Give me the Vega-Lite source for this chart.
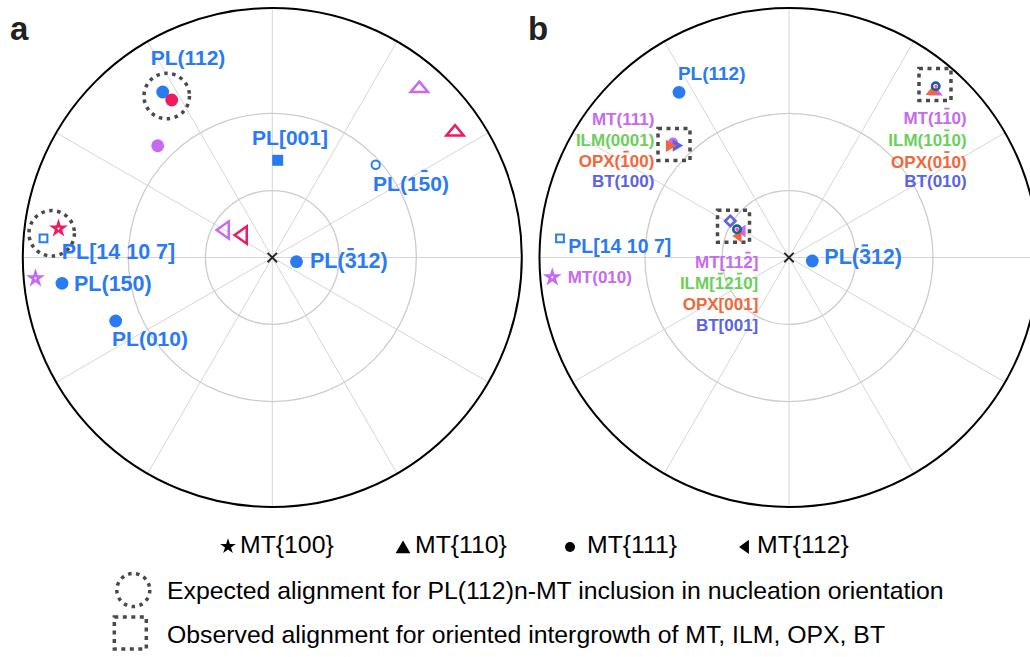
{
 "$schema": "https://vega.github.io/schema/vega-lite/v6.json",
 "width": 1030, "height": 657,
 "autosize": {"type": "none"},
 "padding": 0,
 "background": "white",
 "config": {"view": {"stroke": null}, "text": {"font": "Liberation Sans"}},
 "datasets": {
  "spokes": [
   {"x":1,"y":0,"x2":-1,"y2":0},{"x":0.866,"y":0.5,"x2":-0.866,"y2":-0.5},{"x":0.5,"y":0.866,"x2":-0.5,"y2":-0.866},{"x":0,"y":1,"x2":0,"y2":-1},{"x":-0.5,"y":0.866,"x2":0.5,"y2":-0.866},{"x":-0.866,"y":0.5,"x2":0.866,"y2":-0.5},
   {"x":3.0709,"y":0,"x2":1.0709,"y2":0},{"x":2.9369,"y":0.5,"x2":1.2049,"y2":-0.5},{"x":2.5709,"y":0.866,"x2":1.5709,"y2":-0.866},{"x":2.0709,"y":1,"x2":2.0709,"y2":-1},{"x":1.5709,"y":0.866,"x2":2.5709,"y2":-0.866},{"x":1.2049,"y":0.5,"x2":2.9369,"y2":-0.5}
  ],
  "centers": [{"x":0,"y":0},{"x":2.0709,"y":0}],
  "dcirc": [{"x":-0.4232,"y":0.6473},{"x":-0.8842,"y":0.0970}],
  "dcircLegend": [{"x":-0.5571,"y":-1.3327}],
  "dsq": [{"x":1.6100,"y":0.4529},{"x":2.6561,"y":0.6934},{"x":1.8485,"y":0.1250},{"x":-0.5691,"y":-1.5050}],
  "fcirc": [
   {"x":-0.4393,"y":0.6633,"m":"PL"},{"x":-0.4032,"y":0.6313,"m":"MTr"},{"x":-0.4593,"y":0.4481,"m":"MT"},
   {"x":0.0970,"y":-0.0168,"m":"PL"},{"x":-0.8429,"y":-0.1034,"m":"PL"},{"x":-0.6277,"y":-0.2545,"m":"PL"},
   {"x":1.6301,"y":0.6621,"m":"PL"},{"x":2.1643,"y":-0.0140,"m":"PL"}
  ],
  "fsq": [{"x":0.0216,"y":0.3896,"m":"PL"}],
  "ocirc": [{"x":0.4144,"y":0.3719,"m":"PL"}],
  "osq": [{"x":-0.9170,"y":0.0762,"m":"PL"},{"x":1.1531,"y":0.0770,"m":"PL"}],
  "stars": [{"x":-0.8569,"y":0.1162,"m":"MTr"},{"x":-0.9491,"y":-0.0834,"m":"MT"},{"x":1.1222,"y":-0.0794,"m":"MT"}],
  "otriup": [{"x":0.5892,"y":0.6822,"m":"MT"},{"x":0.7323,"y":0.5082,"m":"MTr"}],
  "otrileft": [{"x":-0.1988,"y":0.1102,"m":"MT"},{"x":-0.1267,"y":0.0902,"m":"MTr"}],
  "cl_circ": [{"x":1.6060,"y":0.4609,"m":"MT"}],
  "cl_triright": [{"x":1.6260,"y":0.4489,"m":"BT"},{"x":1.5990,"y":0.4477,"m":"OPX"}],
  "cl_triup": [{"x":2.6593,"y":0.6653,"m":"MT"},{"x":2.6461,"y":0.6673,"m":"OPX"}],
  "cl_trileft": [{"x":1.8786,"y":0.1062,"m":"MT"},{"x":1.8625,"y":0.0862,"m":"OPX"}],
  "cl_diam": [{"x":1.8357,"y":0.1463,"m":"BT"}],
  "cl_ring": [{"x":2.6589,"y":0.6862,"m":"ring"},{"x":1.8625,"y":0.1130,"m":"ring"}],
  "cl_dot": [{"x":2.6601,"y":0.6862,"m":"pink"},{"x":1.8625,"y":0.1130,"m":"pink"}],
  "lbl_big_c": [
   {"x":-0.338,"y":0.7956,"label":"PL(112)","m":"PL"},
   {"x":0.0709,"y":0.475,"label":"PL[001]","m":"PL"},
   {"x":0.5559,"y":0.2906,"label":"PL(150)","m":"PL"},
   {"x":-0.4902,"y":-0.3307,"label":"PL(010)","m":"PL"}
  ],
  "lbl_big_l": [
   {"x":0.1511,"y":-0.018,"label":"PL(312)","m":"PL"},
   {"x":-0.8441,"y":0.0168,"label":"PL[14 10 7]","m":"PL"},
   {"x":-0.7948,"y":-0.1102,"label":"PL(150)","m":"PL"},
   {"x":2.2124,"y":-0.0032,"label":"PL(312)","m":"PL"}
  ],
  "lbl_mid_c": [{"x":1.7611,"y":0.7355,"label":"PL(112)","m":"PL"}],
  "lbl_mid_l": [{"x":1.1864,"y":0.0409,"label":"PL[14 10 7]","m":"PL"}],
  "lbl_min_r": [
   {"x":1.5311,"y":0.5511,"label":"MT(111)","m":"MT"},
   {"x":1.5311,"y":0.4681,"label":"ILM(0001)","m":"ILM"},
   {"x":1.5311,"y":0.3816,"label":"OPX(100)","m":"OPX"},
   {"x":1.5311,"y":0.3014,"label":"BT(100)","m":"BT"},
   {"x":2.7832,"y":0.5539,"label":"MT(110)","m":"MT"},
   {"x":2.7832,"y":0.4669,"label":"ILM(1010)","m":"ILM"},
   {"x":2.7832,"y":0.3800,"label":"OPX(010)","m":"OPX"},
   {"x":2.7832,"y":0.3014,"label":"BT(010)","m":"BT"},
   {"x":1.9479,"y":-0.0232,"label":"MT[112]","m":"MT"},
   {"x":1.9479,"y":-0.1074,"label":"ILM[1210]","m":"ILM"},
   {"x":1.9479,"y":-0.1904,"label":"OPX[001]","m":"OPX"},
   {"x":1.9479,"y":-0.2745,"label":"BT[001]","m":"BT"}
  ],
  "bars_big": [
   {"x":0.5972,"x2":0.6224,"y":0.3467,"m":"PL"},
   {"x":0.3010,"x2":0.3267,"y":0.0337,"m":"PL"},
   {"x":2.3623,"x2":2.3880,"y":0.0485,"m":"PL"}
  ],
  "bars_small": [
   {"x":2.6934,"x2":2.7142,"y":0.5968,"m":"MT"},
   {"x":2.6934,"x2":2.7142,"y":0.5098,"m":"ILM"},
   {"x":2.6934,"x2":2.7142,"y":0.4228,"m":"OPX"},
   {"x":1.4072,"x2":1.4281,"y":0.4244,"m":"OPX"},
   {"x":1.8958,"x2":1.9166,"y":0.0196,"m":"MT"},
   {"x":1.7860,"x2":1.8068,"y":-0.0645,"m":"ILM"},
   {"x":1.8621,"x2":1.8830,"y":-0.0645,"m":"ILM"}
  ],
  "lbl_min_l": [{"x":1.1840,"y":-0.0834,"label":"MT(010)","m":"MT"}],
  "panels": [{"x":-1.0513,"y":0.8737,"label":"a"},{"x":1.0248,"y":0.8737,"label":"b"}],
  "legStar": [{"x":-0.1776,"y":-1.158}],
  "legTri": [{"x":0.5239,"y":-1.160}],
  "legCirc": [{"x":1.1932,"y":-1.160}],
  "legLeft": [{"x":1.8906,"y":-1.160}],
  "legText": [
   {"x":-0.1295,"y":-1.1563,"label":"MT{100}"},
   {"x":0.5719,"y":-1.1563,"label":"MT{110}"},
   {"x":1.2613,"y":-1.1563,"label":"MT{111}"},
   {"x":1.9427,"y":-1.1563,"label":"MT{112}"},
   {"x":-0.4220,"y":-1.3407,"label":"Expected alignment for PL(112)n-MT inclusion in nucleation orientation"},
   {"x":-0.4220,"y":-1.5170,"label":"Observed alignment for oriented intergrowth of MT, ILM, OPX, BT"}
  ]
 },
 "encoding": {
  "x": {"field": "x", "type": "quantitative", "scale": {"domain": [-1.0914, 3.0369], "nice": false, "zero": false}, "axis": null},
  "y": {"field": "y", "type": "quantitative", "scale": {"domain": [-1.6012, 1.0321], "nice": false, "zero": false}, "axis": null}
 },
 "layer": [
  {"data": {"name": "spokes"}, "mark": {"type": "rule", "color": "#d6d6d6", "strokeWidth": 1},
   "encoding": {"x2": {"field": "x2"}, "y2": {"field": "y2"}}},
  {"data": {"name": "centers"}, "mark": {"type": "point", "shape": "circle", "filled": false, "size": 17876, "stroke": "#cccccc", "strokeWidth": 1.3, "opacity": 1}},
  {"data": {"name": "centers"}, "mark": {"type": "point", "shape": "circle", "filled": false, "size": 83002, "stroke": "#cccccc", "strokeWidth": 1.3, "opacity": 1}},
  {"data": {"name": "centers"}, "mark": {"type": "point", "shape": "circle", "filled": false, "size": 249001, "stroke": "#000000", "strokeWidth": 2, "opacity": 1}},
  {"data": {"name": "centers"}, "mark": {"type": "point", "shape": "M-1,-1L1,1M-1,1L1,-1", "filled": false, "size": 90, "stroke": "#222222", "strokeWidth": 1.8, "opacity": 1}},
  {"data": {"name": "dcirc"}, "mark": {"type": "point", "shape": "circle", "filled": false, "size": 2070, "stroke": "#4a4a4a", "strokeWidth": 3.5, "strokeDash": [3.5, 4.5], "opacity": 1}},
  {"data": {"name": "dcircLegend"}, "mark": {"type": "point", "shape": "circle", "filled": false, "size": 1089, "stroke": "#4a4a4a", "strokeWidth": 3.5, "strokeDash": [3.5, 4.5], "opacity": 1}},
  {"data": {"name": "dsq"}, "mark": {"type": "point", "shape": "square", "filled": false, "size": 1024, "stroke": "#4a4a4a", "strokeWidth": 3.5, "strokeDash": [4, 4.5], "opacity": 1}},
  {"data": {"name": "fcirc"}, "mark": {"type": "point", "shape": "circle", "filled": true, "size": 165, "opacity": 1},
   "encoding": {"color": {"field": "m", "type": "nominal", "legend": null, "scale": {"domain": ["PL","MT","MTr","ILM","OPX","BT","ring","pink"], "range": ["#2a7af3","#c56af2","#ef1a5f","#6ccf5c","#f2673a","#5a62e6","#1c5c9e","#f0607a"]}}}},
  {"data": {"name": "fsq"}, "mark": {"type": "point", "shape": "square", "filled": true, "size": 121, "opacity": 1},
   "encoding": {"color": {"field": "m", "type": "nominal", "legend": null, "scale": {"domain": ["PL","MT","MTr","ILM","OPX","BT","ring","pink"], "range": ["#2a7af3","#c56af2","#ef1a5f","#6ccf5c","#f2673a","#5a62e6","#1c5c9e","#f0607a"]}}}},
  {"data": {"name": "ocirc"}, "mark": {"type": "point", "shape": "circle", "filled": false, "size": 70, "strokeWidth": 2, "opacity": 1},
   "encoding": {"color": {"field": "m", "type": "nominal", "legend": null, "scale": {"domain": ["PL","MT","MTr","ILM","OPX","BT","ring","pink"], "range": ["#2a7af3","#c56af2","#ef1a5f","#6ccf5c","#f2673a","#5a62e6","#1c5c9e","#f0607a"]}}}},
  {"data": {"name": "osq"}, "mark": {"type": "point", "shape": "square", "filled": false, "size": 60, "strokeWidth": 2, "opacity": 1},
   "encoding": {"color": {"field": "m", "type": "nominal", "legend": null, "scale": {"domain": ["PL","MT","MTr","ILM","OPX","BT","ring","pink"], "range": ["#2a7af3","#c56af2","#ef1a5f","#6ccf5c","#f2673a","#5a62e6","#1c5c9e","#f0607a"]}}}},
  {"data": {"name": "stars"}, "mark": {"type": "point", "shape": "M0,-1L0.225,-0.309L0.951,-0.309L0.363,0.118L0.588,0.809L0,0.382L-0.588,0.809L-0.363,0.118L-0.951,-0.309L-0.225,-0.309Z", "filled": true, "size": 400, "opacity": 1},
   "encoding": {"color": {"field": "m", "type": "nominal", "legend": null, "scale": {"domain": ["PL","MT","MTr","ILM","OPX","BT","ring","pink"], "range": ["#2a7af3","#c56af2","#ef1a5f","#6ccf5c","#f2673a","#5a62e6","#1c5c9e","#f0607a"]}}}},
  {"data": {"name": "stars"}, "mark": {"type": "point", "shape": "circle", "filled": true, "size": 5, "color": "#ffffff", "opacity": 1}},
  {"data": {"name": "otriup"}, "mark": {"type": "point", "shape": "M0,-0.65L1,0.55L-1,0.55Z", "filled": false, "size": 300, "strokeWidth": 2.5, "opacity": 1},
   "encoding": {"color": {"field": "m", "type": "nominal", "legend": null, "scale": {"domain": ["PL","MT","MTr","ILM","OPX","BT","ring","pink"], "range": ["#2a7af3","#c56af2","#ef1a5f","#6ccf5c","#f2673a","#5a62e6","#1c5c9e","#f0607a"]}}}},
  {"data": {"name": "otrileft"}, "mark": {"type": "point", "shape": "M-0.7,0L0.7,-1L0.7,1Z", "filled": false, "size": 300, "strokeWidth": 2.5, "opacity": 1},
   "encoding": {"color": {"field": "m", "type": "nominal", "legend": null, "scale": {"domain": ["PL","MT","MTr","ILM","OPX","BT","ring","pink"], "range": ["#2a7af3","#c56af2","#ef1a5f","#6ccf5c","#f2673a","#5a62e6","#1c5c9e","#f0607a"]}}}},
  {"data": {"name": "cl_circ"}, "mark": {"type": "point", "shape": "circle", "filled": true, "size": 100, "opacity": 1},
   "encoding": {"color": {"field": "m", "type": "nominal", "legend": null, "scale": {"domain": ["PL","MT","MTr","ILM","OPX","BT","ring","pink"], "range": ["#2a7af3","#c56af2","#ef1a5f","#6ccf5c","#f2673a","#5a62e6","#1c5c9e","#f0607a"]}}}},
  {"data": {"name": "cl_triright"}, "mark": {"type": "point", "shape": "triangle-right", "filled": true, "size": 150, "opacity": 1},
   "encoding": {"color": {"field": "m", "type": "nominal", "legend": null, "scale": {"domain": ["PL","MT","MTr","ILM","OPX","BT","ring","pink"], "range": ["#2a7af3","#c56af2","#ef1a5f","#6ccf5c","#f2673a","#5a62e6","#1c5c9e","#f0607a"]}}}},
  {"data": {"name": "cl_triup"}, "mark": {"type": "point", "shape": "M0,-0.65L1,0.55L-1,0.55Z", "filled": true, "size": 200, "opacity": 1},
   "encoding": {"color": {"field": "m", "type": "nominal", "legend": null, "scale": {"domain": ["PL","MT","MTr","ILM","OPX","BT","ring","pink"], "range": ["#2a7af3","#c56af2","#ef1a5f","#6ccf5c","#f2673a","#5a62e6","#1c5c9e","#f0607a"]}}}},
  {"data": {"name": "cl_trileft"}, "mark": {"type": "point", "shape": "M-0.7,0L0.7,-1L0.7,1Z", "filled": true, "size": 170, "opacity": 1},
   "encoding": {"color": {"field": "m", "type": "nominal", "legend": null, "scale": {"domain": ["PL","MT","MTr","ILM","OPX","BT","ring","pink"], "range": ["#2a7af3","#c56af2","#ef1a5f","#6ccf5c","#f2673a","#5a62e6","#1c5c9e","#f0607a"]}}}},
  {"data": {"name": "cl_diam"}, "mark": {"type": "point", "shape": "diamond", "filled": false, "size": 110, "strokeWidth": 2.5, "opacity": 1},
   "encoding": {"color": {"field": "m", "type": "nominal", "legend": null, "scale": {"domain": ["PL","MT","MTr","ILM","OPX","BT","ring","pink"], "range": ["#2a7af3","#c56af2","#ef1a5f","#6ccf5c","#f2673a","#5a62e6","#1c5c9e","#f0607a"]}}}},
  {"data": {"name": "cl_ring"}, "mark": {"type": "point", "shape": "circle", "filled": false, "size": 55, "strokeWidth": 2.6, "opacity": 1},
   "encoding": {"color": {"field": "m", "type": "nominal", "legend": null, "scale": {"domain": ["PL","MT","MTr","ILM","OPX","BT","ring","pink"], "range": ["#2a7af3","#c56af2","#ef1a5f","#6ccf5c","#f2673a","#5a62e6","#1c5c9e","#f0607a"]}}}},
  {"data": {"name": "cl_dot"}, "mark": {"type": "point", "shape": "circle", "filled": true, "size": 10, "opacity": 1},
   "encoding": {"color": {"field": "m", "type": "nominal", "legend": null, "scale": {"domain": ["PL","MT","MTr","ILM","OPX","BT","ring","pink"], "range": ["#2a7af3","#c56af2","#ef1a5f","#6ccf5c","#f2673a","#5a62e6","#1c5c9e","#f0607a"]}}}},
  {"data": {"name": "lbl_big_c"}, "mark": {"type": "text", "font": "Liberation Sans", "fontWeight": "bold", "fontSize": 21, "align": "center", "baseline": "middle"},
   "encoding": {"text": {"field": "label"}, "color": {"field": "m", "type": "nominal", "legend": null, "scale": {"domain": ["PL","MT","MTr","ILM","OPX","BT","ring","pink"], "range": ["#2a7af3","#c56af2","#ef1a5f","#6ccf5c","#f2673a","#5a62e6","#1c5c9e","#f0607a"]}}}},
  {"data": {"name": "lbl_big_l"}, "mark": {"type": "text", "font": "Liberation Sans", "fontWeight": "bold", "fontSize": 21.5, "align": "left", "baseline": "middle"},
   "encoding": {"text": {"field": "label"}, "color": {"field": "m", "type": "nominal", "legend": null, "scale": {"domain": ["PL","MT","MTr","ILM","OPX","BT","ring","pink"], "range": ["#2a7af3","#c56af2","#ef1a5f","#6ccf5c","#f2673a","#5a62e6","#1c5c9e","#f0607a"]}}}},
  {"data": {"name": "lbl_mid_c"}, "mark": {"type": "text", "font": "Liberation Sans", "fontWeight": "bold", "fontSize": 19, "align": "center", "baseline": "middle"},
   "encoding": {"text": {"field": "label"}, "color": {"field": "m", "type": "nominal", "legend": null, "scale": {"domain": ["PL","MT","MTr","ILM","OPX","BT","ring","pink"], "range": ["#2a7af3","#c56af2","#ef1a5f","#6ccf5c","#f2673a","#5a62e6","#1c5c9e","#f0607a"]}}}},
  {"data": {"name": "lbl_mid_l"}, "mark": {"type": "text", "font": "Liberation Sans", "fontWeight": "bold", "fontSize": 19.5, "align": "left", "baseline": "middle"},
   "encoding": {"text": {"field": "label"}, "color": {"field": "m", "type": "nominal", "legend": null, "scale": {"domain": ["PL","MT","MTr","ILM","OPX","BT","ring","pink"], "range": ["#2a7af3","#c56af2","#ef1a5f","#6ccf5c","#f2673a","#5a62e6","#1c5c9e","#f0607a"]}}}},
  {"data": {"name": "lbl_min_r"}, "mark": {"type": "text", "font": "Liberation Sans", "fontWeight": "bold", "fontSize": 17, "align": "right", "baseline": "middle"},
   "encoding": {"text": {"field": "label"}, "color": {"field": "m", "type": "nominal", "legend": null, "scale": {"domain": ["PL","MT","MTr","ILM","OPX","BT","ring","pink"], "range": ["#2a7af3","#c56af2","#ef1a5f","#6ccf5c","#f2673a","#5a62e6","#1c5c9e","#f0607a"]}}}},
  {"data": {"name": "lbl_min_l"}, "mark": {"type": "text", "font": "Liberation Sans", "fontWeight": "bold", "fontSize": 17, "align": "left", "baseline": "middle"},
   "encoding": {"text": {"field": "label"}, "color": {"field": "m", "type": "nominal", "legend": null, "scale": {"domain": ["PL","MT","MTr","ILM","OPX","BT","ring","pink"], "range": ["#2a7af3","#c56af2","#ef1a5f","#6ccf5c","#f2673a","#5a62e6","#1c5c9e","#f0607a"]}}}},
  {"data": {"name": "bars_big"}, "mark": {"type": "rule", "strokeWidth": 2.2},
   "encoding": {"x2": {"field": "x2"}, "color": {"field": "m", "type": "nominal", "legend": null, "scale": {"domain": ["PL","MT","MTr","ILM","OPX","BT","ring","pink"], "range": ["#2a7af3","#c56af2","#ef1a5f","#6ccf5c","#f2673a","#5a62e6","#1c5c9e","#f0607a"]}}}},
  {"data": {"name": "bars_small"}, "mark": {"type": "rule", "strokeWidth": 1.8},
   "encoding": {"x2": {"field": "x2"}, "color": {"field": "m", "type": "nominal", "legend": null, "scale": {"domain": ["PL","MT","MTr","ILM","OPX","BT","ring","pink"], "range": ["#2a7af3","#c56af2","#ef1a5f","#6ccf5c","#f2673a","#5a62e6","#1c5c9e","#f0607a"]}}}},
  {"data": {"name": "panels"}, "mark": {"type": "text", "font": "Liberation Sans", "fontWeight": "bold", "fontSize": 33, "align": "left", "baseline": "alphabetic", "color": "#222222"},
   "encoding": {"text": {"field": "label"}}},
  {"data": {"name": "legStar"}, "mark": {"type": "point", "shape": "M0,-1L0.225,-0.309L0.951,-0.309L0.363,0.118L0.588,0.809L0,0.382L-0.588,0.809L-0.363,0.118L-0.951,-0.309L-0.225,-0.309Z", "filled": true, "size": 270, "color": "#000000", "opacity": 1}},
  {"data": {"name": "legTri"}, "mark": {"type": "point", "shape": "triangle-up", "filled": true, "size": 220, "color": "#000000", "opacity": 1}},
  {"data": {"name": "legCirc"}, "mark": {"type": "point", "shape": "circle", "filled": true, "size": 100, "color": "#000000", "opacity": 1}},
  {"data": {"name": "legLeft"}, "mark": {"type": "point", "shape": "M-0.7,0L0.7,-1L0.7,1Z", "filled": true, "size": 200, "color": "#000000", "opacity": 1}},
  {"data": {"name": "legText"}, "mark": {"type": "text", "font": "Liberation Sans", "fontSize": 24.8, "align": "left", "baseline": "middle", "color": "#000000"},
   "encoding": {"text": {"field": "label"}}}
 ]
}
